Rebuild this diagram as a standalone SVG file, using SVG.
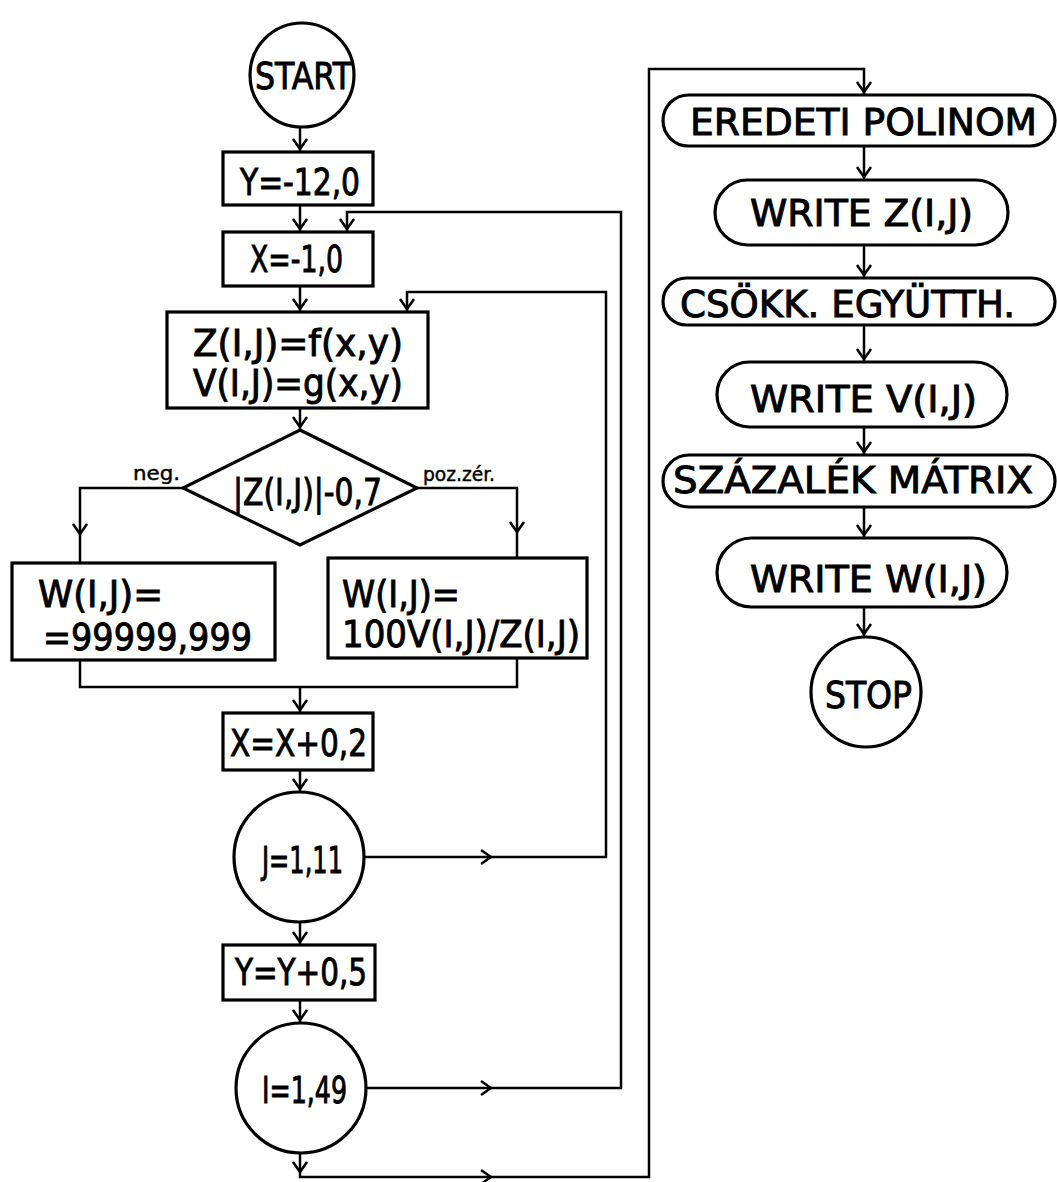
<svg xmlns="http://www.w3.org/2000/svg" width="1057" height="1182" viewBox="0 0 1057 1182">
<style>
.n{fill:none;stroke:#000;stroke-width:3.2}
.c{fill:none;stroke:#000;stroke-width:2.5}
.a{fill:none;stroke:#000;stroke-width:2.5;marker-end:url(#v)}
text{font-family:"DejaVu Sans Condensed","Liberation Sans",sans-serif;font-size:38px;fill:#000;stroke:#000;stroke-width:0.9}
.s{font-size:20px;stroke-width:0.4}
</style>
<defs>
<marker id="v" markerUnits="userSpaceOnUse" viewBox="-12 -9 14 18" refX="0" refY="0" markerWidth="14" markerHeight="18" orient="auto" overflow="visible">
<path d="M-10,-7 L0,0 L-10,7" fill="none" stroke="#000" stroke-width="2.5"/>
</marker>
</defs>
<rect width="1057" height="1182" fill="#fff"/>
<g id="connectors">
<path class="a" d="M300,127 V149"/><path class="c" d="M300,149 V152"/>
<path class="a" d="M300,205 V229"/><path class="c" d="M300,229 V232"/>
<path class="a" d="M300,286 V309"/><path class="c" d="M300,309 V312"/>
<path class="a" d="M300,408 V427"/><path class="c" d="M300,427 V430"/>
<path class="a" d="M183,488 H80 V534"/><path class="c" d="M80,534 V563"/>
<path class="a" d="M417,488 H517 V532"/><path class="c" d="M517,532 V558"/>
<path class="c" d="M80,660 V687 H517 V658"/>
<path class="a" d="M300,687 V710"/><path class="c" d="M300,710 V713"/>
<path class="a" d="M300,770 V789"/><path class="c" d="M300,789 V792"/>
<path class="a" d="M300,922 V942"/><path class="c" d="M300,942 V945"/>
<path class="a" d="M300,1000 V1020"/><path class="c" d="M300,1020 V1023"/>
<path class="a" d="M365,857 H491"/><path class="a" d="M491,857 H606 V292 H407 V309"/><path class="c" d="M407,309 V312"/>
<path class="a" d="M367,1088 H491"/><path class="a" d="M491,1088 H621 V212 H347 V229"/><path class="c" d="M347,229 V232"/>
<path class="a" d="M300,1153 V1172"/><path class="a" d="M300,1172 V1177 H491"/><path class="a" d="M491,1177 H649 V69 H864 V92"/><path class="c" d="M864,92 V95"/>
<path class="a" d="M864,146 V177"/><path class="c" d="M864,177 V180"/>
<path class="a" d="M864,245 V275"/><path class="c" d="M864,275 V278"/>
<path class="a" d="M864,325 V359"/><path class="c" d="M864,359 V362"/>
<path class="a" d="M864,427 V452"/><path class="c" d="M864,452 V455"/>
<path class="a" d="M864,507 V535"/><path class="c" d="M864,535 V538"/>
<path class="a" d="M864,607 V634"/><path class="c" d="M864,634 V637"/>
</g>
<g id="start"><circle class="n" cx="302" cy="75" r="52"/><text x="255" y="89" font-size="34" textLength="97" lengthAdjust="spacingAndGlyphs">START</text></g>
<g id="y0"><rect class="n" x="223" y="152" width="150" height="53"/><text x="240" y="195" textLength="120" lengthAdjust="spacingAndGlyphs">Y=-12,0</text></g>
<g id="x0"><rect class="n" x="223" y="232" width="150" height="54"/><text x="250" y="272" textLength="93" lengthAdjust="spacingAndGlyphs">X=-1,0</text></g>
<g id="calc"><rect class="n" x="167" y="312" width="261" height="96"/>
<text x="193" y="356" textLength="210" lengthAdjust="spacingAndGlyphs">Z(I,J)=f(x,y)</text>
<text x="193" y="396" textLength="210" lengthAdjust="spacingAndGlyphs">V(I,J)=g(x,y)</text></g>
<g id="decision"><polygon class="n" points="300,430 417,488 300,545 183,488"/>
<text x="233" y="505" textLength="149" lengthAdjust="spacingAndGlyphs">|Z(I,J)|-0,7</text>
<text class="s" x="133" y="480" textLength="47" lengthAdjust="spacingAndGlyphs">neg.</text>
<text class="s" x="423" y="481" textLength="72" lengthAdjust="spacingAndGlyphs">poz.zér.</text></g>
<g id="wneg"><rect class="n" x="12" y="563" width="263" height="97"/>
<text x="38" y="607" textLength="125" lengthAdjust="spacingAndGlyphs">W(I,J)=</text>
<text x="43" y="650" textLength="209" lengthAdjust="spacingAndGlyphs">=99999,999</text></g>
<g id="wpos"><rect class="n" x="328" y="558" width="259" height="100"/>
<text x="342" y="607" textLength="118" lengthAdjust="spacingAndGlyphs">W(I,J)=</text>
<text x="342" y="647" textLength="238" lengthAdjust="spacingAndGlyphs">100V(I,J)/Z(I,J)</text></g>
<g id="xinc"><rect class="n" x="223" y="713" width="150" height="57"/><text x="230" y="756" textLength="137" lengthAdjust="spacingAndGlyphs">X=X+0,2</text></g>
<g id="jloop"><circle class="n" cx="299" cy="857" r="65"/><text x="262" y="873" textLength="81" lengthAdjust="spacingAndGlyphs">J=1,11</text></g>
<g id="yinc"><rect class="n" x="223" y="945" width="152" height="55"/><text x="235" y="985" textLength="132" lengthAdjust="spacingAndGlyphs">Y=Y+0,5</text></g>
<g id="iloop"><circle class="n" cx="301" cy="1088" r="65"/><text x="262" y="1103" textLength="85" lengthAdjust="spacingAndGlyphs">I=1,49</text></g>
<g id="eredeti"><rect class="n" x="663" y="95" width="392" height="51" rx="25.5"/><text x="690" y="135" textLength="347" lengthAdjust="spacingAndGlyphs">EREDETI  POLINOM</text></g>
<g id="writez"><rect class="n" x="715" y="180" width="293" height="65" rx="32.5"/><text x="750" y="226" textLength="223" lengthAdjust="spacingAndGlyphs">WRITE  Z(I,J)</text></g>
<g id="csokk"><rect class="n" x="663" y="278" width="392" height="47" rx="23.5"/><text x="680" y="317" textLength="335" lengthAdjust="spacingAndGlyphs">CSÖKK. EGYÜTTH.</text></g>
<g id="writev"><rect class="n" x="717" y="362" width="290" height="65" rx="32.5"/><text x="750" y="412" textLength="227" lengthAdjust="spacingAndGlyphs">WRITE  V(I,J)</text></g>
<g id="szazalek"><rect class="n" x="663" y="455" width="392" height="52" rx="26"/><text x="673" y="493" textLength="360" lengthAdjust="spacingAndGlyphs">SZÁZALÉK MÁTRIX</text></g>
<g id="writew"><rect class="n" x="717" y="538" width="290" height="69" rx="34.5"/><text x="750" y="592" textLength="237" lengthAdjust="spacingAndGlyphs">WRITE  W(I,J)</text></g>
<g id="stop"><circle class="n" cx="866" cy="692" r="55"/><text x="825" y="708" textLength="87" lengthAdjust="spacingAndGlyphs">STOP</text></g>
</svg>
